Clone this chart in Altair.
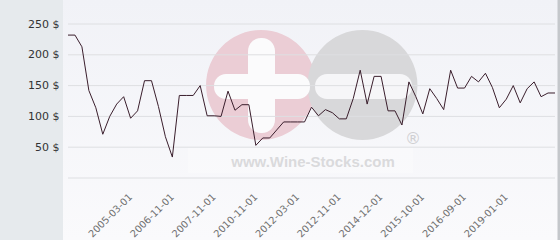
import altair as alt
import pandas as pd

# ---- data ----
prices = [232, 232, 213, 142, 114, 71, 100, 120, 132, 97,
          109, 158, 158, 116, 67, 34, 134, 134, 134, 150,
          101, 101, 100, 141, 110, 119, 119, 53, 65, 65,
          78, 91, 91, 91, 91, 115, 101, 111, 106, 96,
          96, 129, 175, 120, 165, 165, 109, 109, 86, 156,
          132, 104, 145, 129, 111, 175, 146, 146, 165, 156,
          170, 147, 114, 128, 150, 122, 145, 156, 132, 138, 138]
tick_index = [8, 14, 20, 26, 32, 38, 44, 50, 56, 62]
tick_labels = ["2005-03-01", "2006-11-01", "2007-11-01", "2010-11-01", "2012-03-01",
               "2012-11-01", "2014-12-01", "2015-10-01", "2016-09-01", "2019-01-01"]
y_ticks = [0, 50, 100, 150, 200, 250]

df = pd.DataFrame({"i": list(range(len(prices))), "price": prices})
grid_df = pd.DataFrame({"price": y_ticks})
one = pd.DataFrame({"a": [0]})

W, H = 487, 154
FONT = "DejaVu Sans"

label_expr = "[" + ",".join("'%s'" % s for s in tick_labels) + "][indexof([" + \
    ",".join(str(v) for v in tick_index) + "], datum.value)]"

x_enc = alt.X("i:Q", scale=alt.Scale(domain=[0, len(prices) - 1], nice=False, zero=False),
              axis=alt.Axis(values=tick_index, labelExpr=label_expr, labelAngle=-45,
                            labelAlign="right", labelBaseline="top", labelOffset=3,
                            labelFont=FONT, labelFontSize=9.8, labelColor="#707070",
                            ticks=False, domain=False, grid=False, labelPadding=13.5,
                            title=None, labelOverlap=False, zindex=1))
y_scale = alt.Scale(domain=[0, 250], nice=False)
y_axis = alt.Axis(values=y_ticks, labelExpr="datum.value == 0 ? '' : datum.value + ' $'",
                  labelFont=FONT, labelFontSize=11, labelColor="#333333",
                  ticks=False, domain=False, grid=False, labelPadding=9, title=None,
                  zindex=1)
y_enc = alt.Y("price:Q", scale=y_scale, axis=y_axis)

bg = alt.Chart(one).mark_rect(
    color=alt.LinearGradient(gradient="linear", x1=0, y1=0, x2=0, y2=1,
                             stops=[alt.GradientStop(offset=0, color="#f1f2f7"),
                                    alt.GradientStop(offset=1, color="#fafafc")])
).encode(x=alt.value(-5), x2=alt.value(490), y=alt.value(-24), y2=alt.value(216))

left_panel = alt.Chart(one).mark_rect(color="#e6eaed").encode(
    x=alt.value(-68), x2=alt.value(-5), y=alt.value(-24), y2=alt.value(216))

right_border = alt.Chart(one).mark_rect(color="#c4c7cb").encode(
    x=alt.value(489.5), x2=alt.value(492), y=alt.value(-24), y2=alt.value(216))

text_box = alt.Chart(one).mark_rect(color="#ffffff", opacity=0.3).encode(
    x=alt.value(120), x2=alt.value(345), y=alt.value(124), y2=alt.value(149))

pink = alt.Chart(one).mark_circle(color="#ebcdd5", opacity=1).encode(
    x=alt.value(193), y=alt.value(61), size=alt.value(12076))
gray = alt.Chart(one).mark_circle(color="#d8d8da", opacity=1).encode(
    x=alt.value(294.5), y=alt.value(61), size=alt.value(12076))

plus_v = alt.Chart(one).mark_rect(color="#fbfbfc", cornerRadius=13).encode(
    x=alt.value(180), x2=alt.value(207), y=alt.value(14), y2=alt.value(109))
plus_h = alt.Chart(one).mark_rect(color="#fbfbfc", cornerRadius=12).encode(
    x=alt.value(146), x2=alt.value(242), y=alt.value(50), y2=alt.value(75))
minus_b = alt.Chart(one).mark_rect(color="#f6f6f8", cornerRadius=12).encode(
    x=alt.value(247), x2=alt.value(344), y=alt.value(50), y2=alt.value(75))

reg = alt.Chart(one).mark_text(text="®", font=FONT, fontSize=16, color="#cfcfd2",
                               align="center", baseline="middle").encode(
    x=alt.value(345), y=alt.value(115))
site = alt.Chart(one).mark_text(text="www.Wine-Stocks.com", font="Liberation Sans",
                                fontWeight="bold", fontSize=15, color="#dadadc",
                                align="center", baseline="alphabetic").encode(
    x=alt.value(245), y=alt.value(142.5))

grid = alt.Chart(grid_df).mark_rule(color="#dedfe2", strokeWidth=1).encode(
    y=y_enc, x=alt.value(0), x2=alt.value(W))

line = alt.Chart(df).mark_line(color="#3a1e2c", strokeWidth=1).encode(x=x_enc, y=y_enc)

chart = alt.layer(bg, left_panel, right_border, text_box, pink, gray, plus_v, plus_h,
                  minus_b, reg, site, grid, line).properties(
    width=W, height=H,
    padding={"left": 68, "top": 24, "right": 5, "bottom": 62},
    autosize=alt.AutoSizeParams(type="none"),
    background="#f4f5f8",
).configure_view(stroke=None)

chart.save("out.html", embed_options={"renderer": "svg", "actions": False})
